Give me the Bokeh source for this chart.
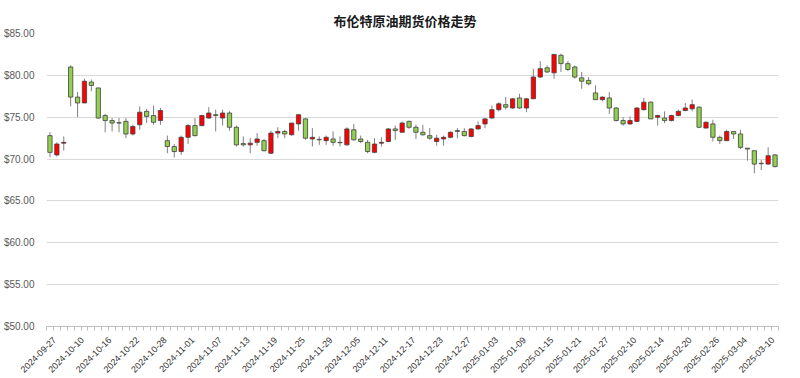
import math
from bokeh.plotting import figure
from bokeh.models import Range1d, FixedTicker, PrintfTickFormatter, ColumnDataSource
from bokeh.embed import file_html
from bokeh.resources import INLINE

title_text = "布伦特原油期货价格走势"

dates = [
    "2024-09-27", "2024-09-30",
    "2024-10-08", "2024-10-09", "2024-10-10", "2024-10-11", "2024-10-14", "2024-10-15",
    "2024-10-16", "2024-10-17", "2024-10-18", "2024-10-21", "2024-10-22", "2024-10-23",
    "2024-10-24", "2024-10-25", "2024-10-28", "2024-10-29", "2024-10-30", "2024-10-31",
    "2024-11-01", "2024-11-04", "2024-11-05", "2024-11-06", "2024-11-07", "2024-11-08",
    "2024-11-11", "2024-11-12", "2024-11-13", "2024-11-14", "2024-11-15", "2024-11-18",
    "2024-11-19", "2024-11-20", "2024-11-21", "2024-11-22", "2024-11-25", "2024-11-26",
    "2024-11-27", "2024-11-28", "2024-11-29",
    "2024-12-02", "2024-12-03", "2024-12-04", "2024-12-05", "2024-12-06", "2024-12-09",
    "2024-12-10", "2024-12-11", "2024-12-12", "2024-12-13", "2024-12-16", "2024-12-17",
    "2024-12-18", "2024-12-19", "2024-12-20", "2024-12-23", "2024-12-24", "2024-12-25",
    "2024-12-26", "2024-12-27", "2024-12-30", "2024-12-31",
    "2025-01-02", "2025-01-03", "2025-01-06", "2025-01-07", "2025-01-08", "2025-01-09",
    "2025-01-10", "2025-01-13", "2025-01-14", "2025-01-15", "2025-01-16", "2025-01-17",
    "2025-01-20", "2025-01-21", "2025-01-22", "2025-01-23", "2025-01-24", "2025-01-27",
    "2025-02-05", "2025-02-06", "2025-02-07", "2025-02-10", "2025-02-11", "2025-02-12",
    "2025-02-13", "2025-02-14", "2025-02-17", "2025-02-18", "2025-02-19", "2025-02-20",
    "2025-02-21", "2025-02-24", "2025-02-25", "2025-02-26", "2025-02-27", "2025-02-28",
    "2025-03-03", "2025-03-04", "2025-03-05", "2025-03-06", "2025-03-07", "2025-03-10",
    "2025-03-11",
]

open_ = [72.8, 70.5, 71.9, 81.0, 77.4, 76.7, 79.2, 78.5, 75.2, 74.6,
         74.35, 74.5, 73.0, 74.1, 75.7, 75.2, 74.6, 72.2, 71.5, 70.9,
         72.6, 74.0, 74.0, 74.9, 75.3, 74.9, 75.5, 73.8, 71.85, 71.7,
         72.0, 72.2, 70.7, 73.1, 73.3, 72.9, 74.2, 74.8, 72.4, 72.35,
         72.2, 72.4, 72.0, 71.7, 73.5, 72.4, 72.0, 70.8, 71.9, 72.1,
         73.6, 73.2, 74.5, 73.8, 73.2, 72.8, 72.1, 72.4, 72.6, 73.4,
         73.3, 72.7, 73.6, 74.2, 74.9, 75.9, 76.5, 76.1, 77.3, 76.1,
         77.2, 79.8, 80.9, 80.3, 82.4, 81.4, 81.0, 79.7, 79.4, 77.9,
         77.1, 77.3, 76.1, 74.6, 74.2, 74.5, 75.9, 76.8, 75.0, 74.9,
         74.6, 75.2, 75.8, 76.0, 76.2, 73.7, 74.2, 72.6, 72.2, 73.3,
         73.0, 71.3, 71.0, 69.5, 69.4, 70.5]

high = [73.2, 72.0, 72.7, 81.2, 78.0, 79.6, 79.5, 78.5, 75.4, 74.9,
        74.9, 74.9, 74.1, 76.3, 76.0, 76.4, 76.1, 72.8, 71.8, 72.8,
        74.2, 74.9, 75.3, 76.2, 75.9, 75.9, 75.7, 74.0, 72.7, 72.5,
        73.1, 72.4, 73.4, 73.8, 73.5, 74.3, 75.3, 74.9, 73.7, 72.7,
        72.8, 73.3, 72.7, 73.8, 74.2, 72.8, 72.3, 72.5, 72.6, 73.7,
        74.0, 74.5, 74.6, 74.1, 74.1, 73.7, 72.9, 72.8, 73.3, 73.7,
        73.7, 73.7, 74.5, 74.9, 76.4, 76.8, 77.4, 77.3, 77.8, 77.3,
        80.8, 81.7, 81.2, 82.5, 82.6, 81.7, 81.2, 80.4, 79.8, 78.8,
        77.5, 78.0, 76.2, 75.0, 75.1, 76.2, 77.3, 76.9, 75.3, 75.7,
        75.3, 75.9, 76.7, 77.1, 76.3, 74.5, 74.7, 72.8, 73.5, 73.3,
        73.5, 71.3, 71.0, 69.9, 71.4, 70.6]

low = [70.2, 70.3, 71.0, 76.3, 75.0, 76.7, 78.1, 74.8, 73.2, 73.3,
       73.2, 72.5, 72.8, 73.5, 74.3, 74.1, 74.1, 70.7, 70.2, 70.5,
       71.8, 72.7, 73.9, 74.8, 73.3, 74.0, 73.4, 71.5, 71.5, 70.7,
       71.6, 70.9, 70.6, 72.5, 72.5, 72.8, 73.4, 72.3, 71.5, 71.7,
       71.7, 71.6, 71.5, 71.6, 72.2, 71.9, 70.7, 70.7, 71.5, 72.0,
       72.3, 73.2, 73.6, 72.4, 72.8, 72.3, 71.6, 71.6, 72.5, 72.5,
       72.7, 72.6, 73.5, 73.7, 74.8, 75.7, 75.9, 76.0, 76.0, 75.6,
       77.2, 79.7, 80.3, 79.6, 80.4, 80.5, 79.6, 78.4, 78.8, 77.1,
       76.9, 75.4, 74.5, 74.0, 74.1, 74.4, 75.8, 74.8, 74.0, 74.3,
       74.5, 75.1, 75.7, 75.7, 73.7, 73.7, 72.1, 71.8, 72.2, 72.4,
       71.2, 69.8, 68.3, 68.7, 69.3, 69.0]

close = [70.8, 71.8, 72.0, 77.4, 76.7, 79.3, 78.8, 74.9, 74.6, 74.3,
         74.3, 73.0, 73.9, 75.6, 75.1, 74.4, 75.8, 71.5, 70.9, 72.6,
         74.0, 72.8, 75.2, 75.5, 75.2, 75.5, 73.8, 71.7, 71.7, 71.9,
         72.4, 71.0, 73.1, 73.3, 73.0, 74.3, 75.3, 72.5, 72.6, 72.3,
         72.6, 72.0, 71.95, 73.6, 72.3, 72.1, 70.9, 71.8, 72.0, 73.6,
         73.4, 74.3, 73.8, 73.2, 72.9, 72.5, 72.5, 72.6, 73.2, 73.3,
         72.8, 73.6, 74.0, 74.8, 75.9, 76.6, 76.2, 77.2, 76.1, 77.2,
         79.8, 80.8, 80.4, 82.5, 81.4, 80.7, 79.8, 79.3, 79.0, 77.1,
         77.4, 76.1, 74.6, 74.2, 74.6, 76.1, 76.8, 74.8, 75.2, 74.6,
         75.2, 75.7, 76.1, 76.5, 73.8, 74.4, 72.6, 72.2, 73.3, 73.0,
         71.4, 71.2, 69.4, 69.45, 70.4, 69.1]

y_ticks = [50, 55, 60, 65, 70, 75, 80, 85]

UP_COLOR = "#FF0000"
DOWN_COLOR = "#92D050"

xs = list(range(len(dates)))
src = ColumnDataSource(dict(
    x=xs,
    high=high,
    low=low,
    top=[max(o, c) for o, c in zip(open_, close)],
    bottom=[min(o, c) for o, c in zip(open_, close)],
    color=[UP_COLOR if c > o else DOWN_COLOR for o, c in zip(open_, close)],
))

p = figure(width=800, height=378, output_backend="svg", toolbar_location=None,
           x_range=Range1d(-0.5, len(dates) - 0.5), y_range=Range1d(50, 85),
           min_border_left=43, min_border_right=22, min_border_top=33, min_border_bottom=52)
p.background_fill_color = "white"
p.border_fill_color = "white"
p.outline_line_color = None

p.title.text = title_text
p.title.align = "left"
p.title.offset = 287
p.title.vertical_align = "top"
p.title.standoff = 4
p.title.text_font = "Noto Sans CJK SC"
p.title.text_font_size = "13px"
p.title.text_font_style = "bold"
p.title.text_color = "#1a1a1a"

p.segment(x0="x", y0="low", x1="x", y1="high", source=src, line_color="#808080", line_width=1)
p.vbar(x="x", width=0.62, top="top", bottom="bottom", source=src,
       fill_color="color", line_color="#404040", line_width=0.8)

# label anchors sit slightly right of the candle centre, as in the reference
LABEL_SHIFT = 0.7
major = [i + LABEL_SHIFT for i in xs[::4]]
p.xaxis.ticker = FixedTicker(ticks=major, minor_ticks=[i - 0.5 for i in range(len(dates) + 1)])
p.xaxis.major_label_overrides = {i + LABEL_SHIFT: dates[i] for i in xs[::4]}
p.xaxis.major_label_orientation = math.pi / 4
p.xaxis.major_tick_line_color = None
p.xaxis.minor_tick_line_color = "#bfbfbf"
p.xaxis.minor_tick_out = 4
p.xaxis.minor_tick_in = 0
p.xaxis.axis_line_color = "#bfbfbf"
p.xaxis.major_label_text_font = "Liberation Sans"
p.xaxis.major_label_text_font_size = "9px"
p.xaxis.major_label_text_color = "#333333"
p.xaxis.major_label_standoff = 6

p.yaxis.ticker = FixedTicker(ticks=y_ticks)
p.yaxis.formatter = PrintfTickFormatter(format="$%.2f")
p.yaxis.axis_line_color = None
p.yaxis.major_tick_line_color = None
p.yaxis.minor_tick_line_color = None
p.yaxis.major_label_text_font = "Liberation Sans"
p.yaxis.major_label_text_font_size = "10px"
p.yaxis.major_label_text_color = "#595959"
p.yaxis.major_label_standoff = 6

p.xgrid.visible = False
p.ygrid.grid_line_color = "#d9d9d9"

open("out.html", "w").write(file_html(p, INLINE))
